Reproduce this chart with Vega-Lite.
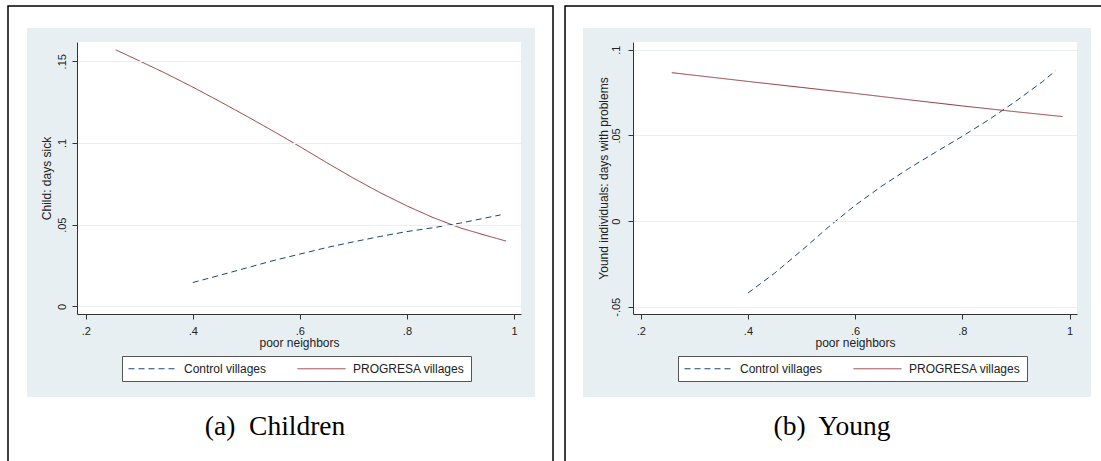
{
  "$schema": "https://vega.github.io/schema/vega-lite/v6.json",
  "background": "#ffffff",
  "padding": {"left": 7, "top": 5, "right": 0, "bottom": 0},
  "spacing": 10,
  "datasets": {
    "left": [
      {"poor": 0.256, "value": 0.157, "series": "PROGRESA villages"},
      {"poor": 0.30, "value": 0.1503, "series": "PROGRESA villages"},
      {"poor": 0.35, "value": 0.1425, "series": "PROGRESA villages"},
      {"poor": 0.40, "value": 0.1342, "series": "PROGRESA villages"},
      {"poor": 0.45, "value": 0.1255, "series": "PROGRESA villages"},
      {"poor": 0.50, "value": 0.1165, "series": "PROGRESA villages"},
      {"poor": 0.55, "value": 0.1073, "series": "PROGRESA villages"},
      {"poor": 0.60, "value": 0.0978, "series": "PROGRESA villages"},
      {"poor": 0.65, "value": 0.088, "series": "PROGRESA villages"},
      {"poor": 0.70, "value": 0.0785, "series": "PROGRESA villages"},
      {"poor": 0.75, "value": 0.0696, "series": "PROGRESA villages"},
      {"poor": 0.80, "value": 0.0615, "series": "PROGRESA villages"},
      {"poor": 0.85, "value": 0.0542, "series": "PROGRESA villages"},
      {"poor": 0.90, "value": 0.048, "series": "PROGRESA villages"},
      {"poor": 0.95, "value": 0.0432, "series": "PROGRESA villages"},
      {"poor": 0.985, "value": 0.040, "series": "PROGRESA villages"},
      {"poor": 0.40, "value": 0.0146, "series": "Control villages"},
      {"poor": 0.45, "value": 0.019, "series": "Control villages"},
      {"poor": 0.50, "value": 0.0235, "series": "Control villages"},
      {"poor": 0.55, "value": 0.028, "series": "Control villages"},
      {"poor": 0.60, "value": 0.032, "series": "Control villages"},
      {"poor": 0.65, "value": 0.036, "series": "Control villages"},
      {"poor": 0.70, "value": 0.0395, "series": "Control villages"},
      {"poor": 0.75, "value": 0.0428, "series": "Control villages"},
      {"poor": 0.80, "value": 0.0458, "series": "Control villages"},
      {"poor": 0.85, "value": 0.0482, "series": "Control villages"},
      {"poor": 0.90, "value": 0.051, "series": "Control villages"},
      {"poor": 0.975, "value": 0.056, "series": "Control villages"}
    ],
    "right": [
      {"poor": 0.258, "value": 0.0866, "series": "PROGRESA villages"},
      {"poor": 0.40, "value": 0.0815, "series": "PROGRESA villages"},
      {"poor": 0.50, "value": 0.078, "series": "PROGRESA villages"},
      {"poor": 0.60, "value": 0.0745, "series": "PROGRESA villages"},
      {"poor": 0.70, "value": 0.0708, "series": "PROGRESA villages"},
      {"poor": 0.80, "value": 0.0672, "series": "PROGRESA villages"},
      {"poor": 0.90, "value": 0.0638, "series": "PROGRESA villages"},
      {"poor": 0.987, "value": 0.061, "series": "PROGRESA villages"},
      {"poor": 0.40, "value": -0.042, "series": "Control villages"},
      {"poor": 0.45, "value": -0.0303, "series": "Control villages"},
      {"poor": 0.50, "value": -0.0172, "series": "Control villages"},
      {"poor": 0.55, "value": -0.0035, "series": "Control villages"},
      {"poor": 0.60, "value": 0.0092, "series": "Control villages"},
      {"poor": 0.65, "value": 0.0205, "series": "Control villages"},
      {"poor": 0.70, "value": 0.0307, "series": "Control villages"},
      {"poor": 0.75, "value": 0.0402, "series": "Control villages"},
      {"poor": 0.80, "value": 0.0495, "series": "Control villages"},
      {"poor": 0.85, "value": 0.0593, "series": "Control villages"},
      {"poor": 0.90, "value": 0.0700, "series": "Control villages"},
      {"poor": 0.95, "value": 0.0815, "series": "Control villages"},
      {"poor": 0.974, "value": 0.0878, "series": "Control villages"}
    ]
  },
  "resolve": {
    "scale": {"x": "independent", "y": "independent", "color": "independent", "strokeDash": "independent"},
    "axis": {"x": "independent", "y": "independent"},
    "legend": {"color": "independent", "strokeDash": "independent"}
  },
  "hconcat": [
    {
      "width": 444,
      "height": 272,
      "layer": [
        {
          "data": {"values": [{}]},
          "mark": {"type": "rect", "fill": "#ffffff", "stroke": "#000000", "strokeWidth": 1.5, "clip": false},
          "encoding": {
            "x": {"datum": 0.0548, "type": "quantitative"},
            "x2": {"datum": 1.0729},
            "y": {"datum": 0.1838, "type": "quantitative"},
            "y2": {"datum": -0.1032}
          }
        },
        {
          "data": {"values": [{}]},
          "mark": {"type": "rect", "fill": "#e8eff2", "clip": false},
          "encoding": {
            "x": {"datum": 0.0903, "type": "quantitative"},
            "x2": {"datum": 1.0393},
            "y": {"datum": 0.1704, "type": "quantitative"},
            "y2": {"datum": -0.0555}
          }
        },
        {
          "data": {"values": [{}]},
          "mark": {"type": "rect", "fill": "#ffffff", "clip": false},
          "encoding": {
            "x": {"datum": 0.1837, "type": "quantitative"},
            "x2": {"datum": 1.0131},
            "y": {"datum": 0.1618, "type": "quantitative"},
            "y2": {"datum": -0.00465}
          }
        },
        {
          "data": {"values": [{}]},
          "mark": {"type": "text", "font": "Liberation Serif", "fontSize": 27.5, "color": "#000000", "align": "center", "baseline": "middle", "clip": false},
          "encoding": {
            "x": {"datum": 0.5536, "type": "quantitative"},
            "y": {"datum": -0.0738, "type": "quantitative"},
            "text": {"value": "(a)\u00a0 Children"}
          }
        },
        {
          "data": {"name": "left"},
          "mark": {"type": "line", "strokeWidth": 1},
          "encoding": {
            "x": {
              "field": "poor", "type": "quantitative",
              "scale": {"domain": [0.1837, 1.0131], "nice": false, "zero": false},
              "axis": {"title": "poor neighbors", "values": [0.2, 0.4, 0.6, 0.8, 1], "labelExpr": "replace(toString(datum.value), '0.', '.')", "grid": false, "labelPadding": 6, "titlePadding": 1, "labelFlush": false, "zindex": 1}
            },
            "y": {
              "field": "value", "type": "quantitative",
              "scale": {"domain": [-0.00465, 0.1618], "nice": false, "zero": false},
              "axis": {"title": "Child: days sick", "values": [0, 0.05, 0.1, 0.15], "labelExpr": "replace(toString(datum.value), '0.', '.')", "grid": true, "labelAngle": -90, "labelPadding": 5, "titlePadding": 3, "labelFlush": false, "zindex": 1}
            },
            "color": {
              "field": "series", "type": "nominal",
              "scale": {"domain": ["Control villages", "PROGRESA villages"], "range": ["#1a476f", "#90353b"]},
              "legend": {"orient": "none", "legendX": 45, "legendY": 314, "direction": "horizontal", "title": null, "symbolType": "M-1,0H7", "symbolSize": 144, "symbolStrokeWidth": 1, "labelOffset": 43, "columnPadding": 28, "padding": 6, "fillColor": "#ffffff", "strokeColor": "#555555"}
            },
            "strokeDash": {
              "field": "series", "type": "nominal",
              "scale": {"domain": ["Control villages", "PROGRESA villages"], "range": [[6, 4], [1, 0]]},
              "legend": {"orient": "none", "legendX": 45, "legendY": 314, "direction": "horizontal", "title": null, "symbolType": "M-1,0H7", "symbolSize": 144, "symbolStrokeWidth": 1, "labelOffset": 43, "columnPadding": 28, "padding": 6, "fillColor": "#ffffff", "strokeColor": "#555555"}
            }
          }
        }
      ]
    },
    {
      "width": 444,
      "height": 272,
      "layer": [
        {
          "data": {"values": [{}]},
          "mark": {"type": "rect", "fill": "#ffffff", "stroke": "#000000", "strokeWidth": 1.5, "clip": false},
          "encoding": {
            "x": {"datum": 0.0588, "type": "quantitative"},
            "x2": {"datum": 1.0847},
            "y": {"datum": 0.1255, "type": "quantitative"},
            "y2": {"datum": -0.1481}
          }
        },
        {
          "data": {"values": [{}]},
          "mark": {"type": "rect", "fill": "#e8eff2", "clip": false},
          "encoding": {
            "x": {"datum": 0.0923, "type": "quantitative"},
            "x2": {"datum": 1.0399},
            "y": {"datum": 0.1127, "type": "quantitative"},
            "y2": {"datum": -0.1026}
          }
        },
        {
          "data": {"values": [{}]},
          "mark": {"type": "rect", "fill": "#ffffff", "clip": false},
          "encoding": {
            "x": {"datum": 0.1856, "type": "quantitative"},
            "x2": {"datum": 1.0138},
            "y": {"datum": 0.1045, "type": "quantitative"},
            "y2": {"datum": -0.0542}
          }
        },
        {
          "data": {"values": [{}]},
          "mark": {"type": "text", "font": "Liberation Serif", "fontSize": 27.5, "color": "#000000", "align": "center", "baseline": "middle", "clip": false},
          "encoding": {
            "x": {"datum": 0.5568, "type": "quantitative"},
            "y": {"datum": -0.1201, "type": "quantitative"},
            "text": {"value": "(b)\u00a0 Young"}
          }
        },
        {
          "data": {"name": "right"},
          "mark": {"type": "line", "strokeWidth": 1},
          "encoding": {
            "x": {
              "field": "poor", "type": "quantitative",
              "scale": {"domain": [0.1856, 1.0138], "nice": false, "zero": false},
              "axis": {"title": "poor neighbors", "values": [0.2, 0.4, 0.6, 0.8, 1], "labelExpr": "replace(toString(datum.value), '0.', '.')", "grid": false, "labelPadding": 6, "titlePadding": 1, "labelFlush": false, "zindex": 1}
            },
            "y": {
              "field": "value", "type": "quantitative",
              "scale": {"domain": [-0.0542, 0.1045], "nice": false, "zero": false},
              "axis": {"title": "Yound individuals: days with problems", "values": [-0.05, 0, 0.05, 0.1], "labelExpr": "replace(toString(datum.value), '0.', '.')", "grid": true, "labelAngle": -90, "labelPadding": 7, "titlePadding": 0, "labelFlush": false, "zindex": 1}
            },
            "color": {
              "field": "series", "type": "nominal",
              "scale": {"domain": ["Control villages", "PROGRESA villages"], "range": ["#1a476f", "#90353b"]},
              "legend": {"orient": "none", "legendX": 45, "legendY": 314, "direction": "horizontal", "title": null, "symbolType": "M-1,0H7", "symbolSize": 144, "symbolStrokeWidth": 1, "labelOffset": 43, "columnPadding": 28, "padding": 6, "fillColor": "#ffffff", "strokeColor": "#555555"}
            },
            "strokeDash": {
              "field": "series", "type": "nominal",
              "scale": {"domain": ["Control villages", "PROGRESA villages"], "range": [[6, 4], [1, 0]]},
              "legend": {"orient": "none", "legendX": 45, "legendY": 314, "direction": "horizontal", "title": null, "symbolType": "M-1,0H7", "symbolSize": 144, "symbolStrokeWidth": 1, "labelOffset": 43, "columnPadding": 28, "padding": 6, "fillColor": "#ffffff", "strokeColor": "#555555"}
            }
          }
        }
      ]
    }
  ],
  "config": {
    "view": {"stroke": null},
    "font": "Liberation Sans",
    "axis": {
      "labelFont": "Liberation Sans", "labelFontSize": 11, "labelColor": "#222222",
      "titleFont": "Liberation Sans", "titleFontSize": 12, "titleFontWeight": "normal", "titleColor": "#222222",
      "domainColor": "#333333", "domainWidth": 1, "tickColor": "#333333", "tickSize": 5, "tickWidth": 1,
      "gridColor": "#e9eef0", "gridWidth": 1
    },
    "legend": {"labelFont": "Liberation Sans", "labelFontSize": 12, "labelColor": "#222222"}
  }
}
